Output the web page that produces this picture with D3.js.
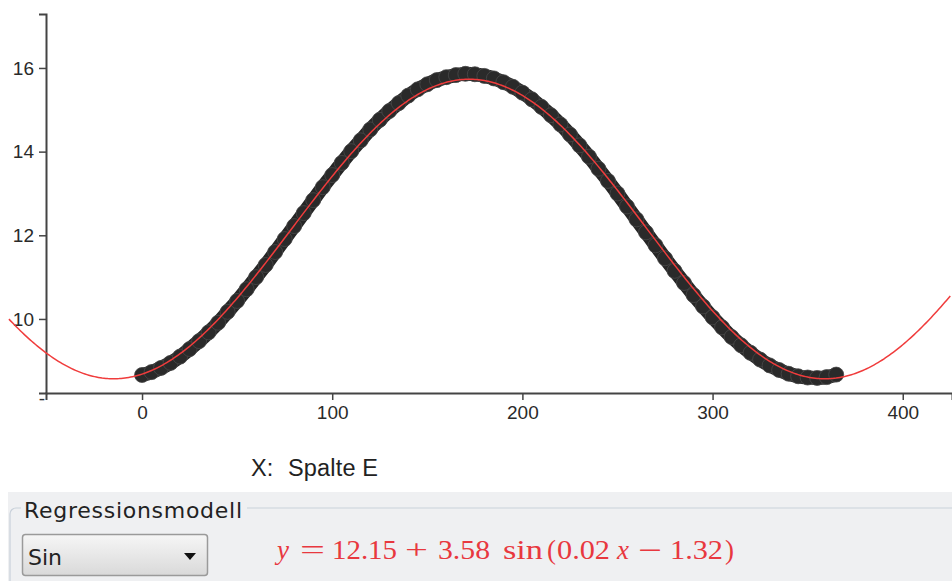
<!DOCTYPE html>
<html>
<head>
<meta charset="utf-8">
<script src="https://cdn.jsdelivr.net/npm/d3@7"></script>
<style>
  body { margin: 0; background: #fff; }
  svg { display: block; }
  .tick text { font-family: "Liberation Sans", Arial, sans-serif; font-size: 19px; fill: #2a2a2a; }
</style>
</head>
<body>
<svg id="chart" width="952" height="581"></svg>
<script>
// day of year (Spalte E) and measured values
const days = [0, 5, 10, 15, 20, 25, 30, 35, 40, 45, 50, 55, 60, 65, 70, 75, 80, 85, 90, 95,
  100, 105, 110, 115, 120, 125, 130, 135, 140, 145, 150, 155, 160, 165, 170, 175, 180, 185, 190, 195,
  200, 205, 210, 215, 220, 225, 230, 235, 240, 245, 250, 255, 260, 265, 270, 275, 280, 285, 290, 295,
  300, 305, 310, 315, 320, 325, 330, 335, 340, 345, 350, 355, 360, 365];
const hours = [8.66, 8.73, 8.83, 8.95, 9.10, 9.28, 9.47, 9.68, 9.91, 10.17, 10.43, 10.71, 11.00, 11.29, 11.60, 11.91, 12.22, 12.53, 12.84, 13.15,
  13.44, 13.73, 14.01, 14.27, 14.53, 14.76, 14.97, 15.16, 15.34, 15.49, 15.61, 15.71, 15.78, 15.83, 15.86, 15.85, 15.81, 15.75, 15.66, 15.55,
  15.41, 15.25, 15.07, 14.87, 14.65, 14.41, 14.15, 13.88, 13.59, 13.30, 13.00, 12.69, 12.38, 12.07, 11.76, 11.45, 11.15, 10.86, 10.57, 10.30,
  10.04, 9.80, 9.57, 9.37, 9.19, 9.03, 8.89, 8.78, 8.69, 8.63, 8.60, 8.59, 8.61, 8.67];

const xTicks = [0, 100, 200, 300, 400];
const yTicks = [10, 12, 14, 16];

// regression: y = a + b sin(c x - d)
const coefA = 12.15;
const coefB = 3.58;
const coefC = 0.0168;
const coefD = 1.32;

const svg = d3.select('#chart');

const x = d3.scaleLinear().domain([-50.5, 425.9]).range([46, 952]);
const y = d3.scaleLinear().domain([8.23, 17.29]).range([393, 14]);

// axes
const yAxis = svg.append('g')
  .attr('transform', 'translate(46,0)')
  .call(d3.axisLeft(y).tickValues(yTicks).tickSizeOuter(0).tickSize(7).tickPadding(5));
const xAxis = svg.append('g')
  .attr('transform', 'translate(0,393)')
  .call(d3.axisBottom(x).tickValues(xTicks).tickSizeOuter(0).tickSize(7).tickPadding(6));

[yAxis, xAxis].forEach(g => {
  g.select('.domain').attr('stroke', '#444').attr('stroke-width', 2);
  g.selectAll('.tick line').attr('stroke', '#444').attr('stroke-width', 1.5);
});

svg.append('text')
  .attr('x', 42).attr('y', 405)
  .attr('text-anchor', 'middle')
  .style('font-family', '"Liberation Sans", Arial, sans-serif')
  .style('font-size', '19px')
  .style('fill', '#333')
  .text('-');

// data band + points
const band = d3.line().x((d, i) => x(days[i])).y(d => y(d)).curve(d3.curveCatmullRom);
svg.append('path')
  .datum(hours)
  .attr('d', band)
  .attr('fill', 'none')
  .attr('stroke', '#262626')
  .attr('stroke-width', 14)
  .attr('stroke-linecap', 'round');

svg.selectAll('.pt')
  .data(hours)
  .enter()
  .append('circle')
  .attr('class', 'pt')
  .attr('cx', (d, i) => x(days[i]))
  .attr('cy', d => y(d))
  .attr('r', 7.5)
  .attr('fill', '#2a2a2a')
  .attr('stroke', '#4a4a4a')
  .attr('stroke-width', 0.8);

// regression curve
const curveX = d3.range(-70, 426, 1);
svg.append('path')
  .datum(curveX)
  .attr('d', d3.line().x(d => x(d)).y(d => y(coefA + coefB * Math.sin(coefC * d - coefD))))
  .attr('fill', 'none')
  .attr('stroke', '#f03c3c')
  .attr('stroke-width', 1.5);

// x label
svg.append('text')
  .attr('x', 251).attr('y', 476)
  .style('font-family', '"Liberation Sans", Arial, sans-serif')
  .style('font-size', '23.5px')
  .style('fill', '#222')
  .text('X:');
svg.append('text')
  .attr('x', 288).attr('y', 476)
  .attr('textLength', 90)
  .style('font-family', '"Liberation Sans", Arial, sans-serif')
  .style('font-size', '23.5px')
  .style('fill', '#222')
  .text('Spalte E');

// bottom panel
svg.append('rect')
  .attr('x', 8).attr('y', 492).attr('width', 944).attr('height', 89)
  .attr('fill', '#eff0f2');
svg.append('rect')
  .attr('x', 10).attr('y', 508).attr('width', 960).attr('height', 100)
  .attr('rx', 6)
  .attr('fill', 'none')
  .attr('stroke', '#c9d1da')
  .attr('stroke-width', 1.2);
svg.append('rect')
  .attr('x', 21).attr('y', 498).attr('width', 226).attr('height', 20)
  .attr('fill', '#eff0f2');
svg.append('text')
  .attr('x', 24).attr('y', 518)
  .attr('textLength', 218)
  .style('font-family', '"DejaVu Sans", sans-serif')
  .style('font-size', '22px')
  .style('fill', '#222')
  .text('Regressionsmodell');

// dropdown
const grad = svg.append('defs').append('linearGradient')
  .attr('id', 'dd').attr('x1', 0).attr('y1', 0).attr('x2', 0).attr('y2', 1);
grad.append('stop').attr('offset', '0%').attr('stop-color', '#f6f6f6');
grad.append('stop').attr('offset', '100%').attr('stop-color', '#d9d9d9');
svg.append('rect')
  .attr('x', 22.5).attr('y', 534.5).attr('width', 185).attr('height', 41)
  .attr('rx', 3)
  .attr('fill', 'url(#dd)')
  .attr('stroke', '#9a9a9a')
  .attr('stroke-width', 1.5);
svg.append('text')
  .attr('x', 28).attr('y', 565)
  .style('font-family', '"DejaVu Sans", sans-serif')
  .style('font-size', '22px')
  .style('fill', '#222')
  .text('Sin');
svg.append('path')
  .attr('d', 'M184,553 L196,553 L190,560 Z')
  .attr('fill', '#111');

// equation, one token at a time
const eqTokens = ['y', '=', coefA.toFixed(2), '+', coefB.toFixed(2), 'sin', '(', coefC.toFixed(2), 'x', '−', coefD.toFixed(2), ')'];
const eqX = [277, 300, 332, 405, 438, 503, 547, 557, 617, 638, 670, 725];
const eqW = [null, 25, 65, 23, 52, 40, null, 53, null, 24, 53, null];
const eqItalic = [true, false, false, false, false, false, false, false, true, false, false, false];

svg.selectAll('.eq')
  .data(eqTokens)
  .enter()
  .append('text')
  .attr('class', 'eq')
  .attr('x', (d, i) => eqX[i])
  .attr('y', 559)
  .attr('textLength', (d, i) => eqW[i])
  .attr('lengthAdjust', 'spacingAndGlyphs')
  .style('font-family', '"Liberation Serif", "DejaVu Serif", serif')
  .style('font-size', '27px')
  .style('font-style', (d, i) => eqItalic[i] ? 'italic' : 'normal')
  .style('fill', '#e8383f')
  .text(d => d);
</script>
</body>
</html>
